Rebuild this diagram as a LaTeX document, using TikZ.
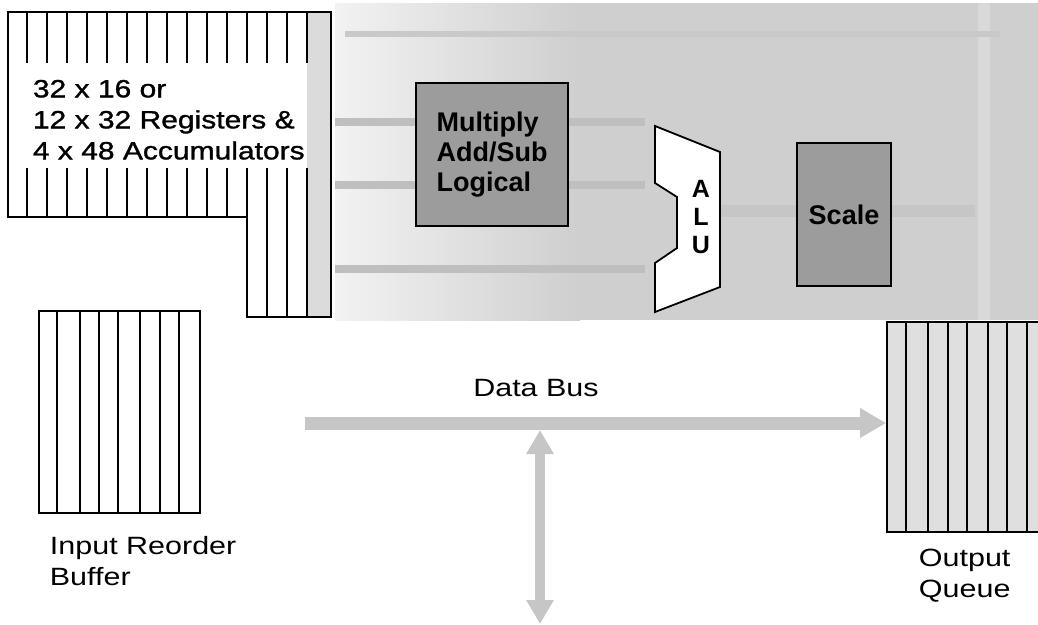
\documentclass[tikz,border=0pt]{standalone}
\usepackage{fontspec}
\setmainfont{Liberation Sans}
\newfontfamily\breit[FakeStretch=1.22]{Liberation Sans}
\newfontfamily\breitfett[FakeStretch=1.2,FakeBold=1.2]{Liberation Sans}
\usetikzlibrary{arrows.meta}
\begin{document}
\begin{tikzpicture}[x=1pt,y=-1pt,line width=1.8pt,
		beschriftung/.style={inner sep=0pt,align=left,font=\breit\fontsize{25}{31}\selectfont},
		rechenbox/.style={draw,fill=gray!78,inner sep=0pt,font=\bfseries\fontsize{27}{30}\selectfont,align=left},
		speicherbox/.style={draw,inner sep=0pt},
		bus/.style={draw=gray!45,line width=13pt,-{Triangle[length=26pt,width=28pt]}},
		busdoppelt/.style={draw=gray!45,line width=10pt,{Triangle[length=24pt,width=26pt]}-{Triangle[length=24pt,width=26pt]}}]
		\useasboundingbox (0,0) rectangle (1038,624);
		\clip (0,0) rectangle (1038,624);
		% Hintergrund Rechenwerk
		\shade[left color=gray!10, right color=gray!38] (335,3) rectangle (580,320);
		\fill[gray!38] (580,3) rectangle (1038,320);
		\fill[gray!30] (978,3) rectangle (990,320);
		% Busleitungen
		\fill[gray!42] (345,31) rectangle (1000,37);
		\foreach \y in {118,181,265} {
			\fill[gray!50] (335,\y) rectangle ++(310,8);
		}
		\fill[gray!45] (720,205) rectangle (975,217);
		% Registersatz
		\fill[gray!28] (307,12) rectangle (331,317);
		\draw (8,12) -- (331,12) -- (331,317) -- (247,317) -- (247,217) -- (8,217) -- cycle;
		\foreach \x in {27,47,...,307} {
			\draw (\x,12) -- ++(0,51);
		}
		\foreach \x in {27,47,...,247} {
			\draw (\x,168) -- (\x,217);
		}
		\foreach \x in {267,287,307} {
			\draw (\x,168) -- (\x,317);
		}
		\node[beschriftung,anchor=north west,font=\breitfett\fontsize{25}{31}\selectfont] (register) at (32,79) {32 x 16 or\\12 x 32 Registers \&\\4 x 48 Accumulators};
		% Rechenwerk
		\node[rechenbox,minimum width=152pt,minimum height=143pt] (mul) at (492,154.5) {Multiply\\Add/Sub\\Logical};
		\draw[fill=white] (655,126) -- (720,152) -- (720,287) -- (655,312) -- (655,263) -- (677,248) -- (677,197) -- (655,183) -- cycle;
		\node[inner sep=0pt,align=center,font=\bfseries\fontsize{25}{28}\selectfont] (alu) at (701,217) {A\\L\\U};
		\node[rechenbox,minimum width=94pt,minimum height=143pt] (scale) at (844,214.5) {Scale};
		% Eingangspuffer
		\node[speicherbox,minimum width=161pt,minimum height=202pt] (eingabe) at (119.5,412) {};
		\foreach \x in {57,80,99,118,140,160,179} {
			\draw (\x,311) -- (\x,513);
		}
		\node[beschriftung,anchor=north west] (eingabetext) at (49,535) {Input Reorder\\Buffer};
		% Ausgabewarteschlange
		\node[speicherbox,fill=gray!25,minimum width=170pt,minimum height=210pt] (ausgabe) at (972,427) {};
		\foreach \x in {906,928,948,967,988,1007,1027} {
			\draw (\x,322) -- (\x,532);
		}
		\node[beschriftung,anchor=north west] (ausgabetext) at (918,548) {Output\\Queue};
		% Datenbus
		\node[beschriftung] (bustext) at (536,388) {Data Bus};
		\coordinate (busanfang) at (305,423);
		\coordinate (abzweig) at (540,430);
		\coordinate (unten) at (540,624);
		\draw[bus] (busanfang) -- (busanfang -| ausgabe.west);
		\draw[busdoppelt] (abzweig) -- (unten);
\end{tikzpicture}
\end{document}
